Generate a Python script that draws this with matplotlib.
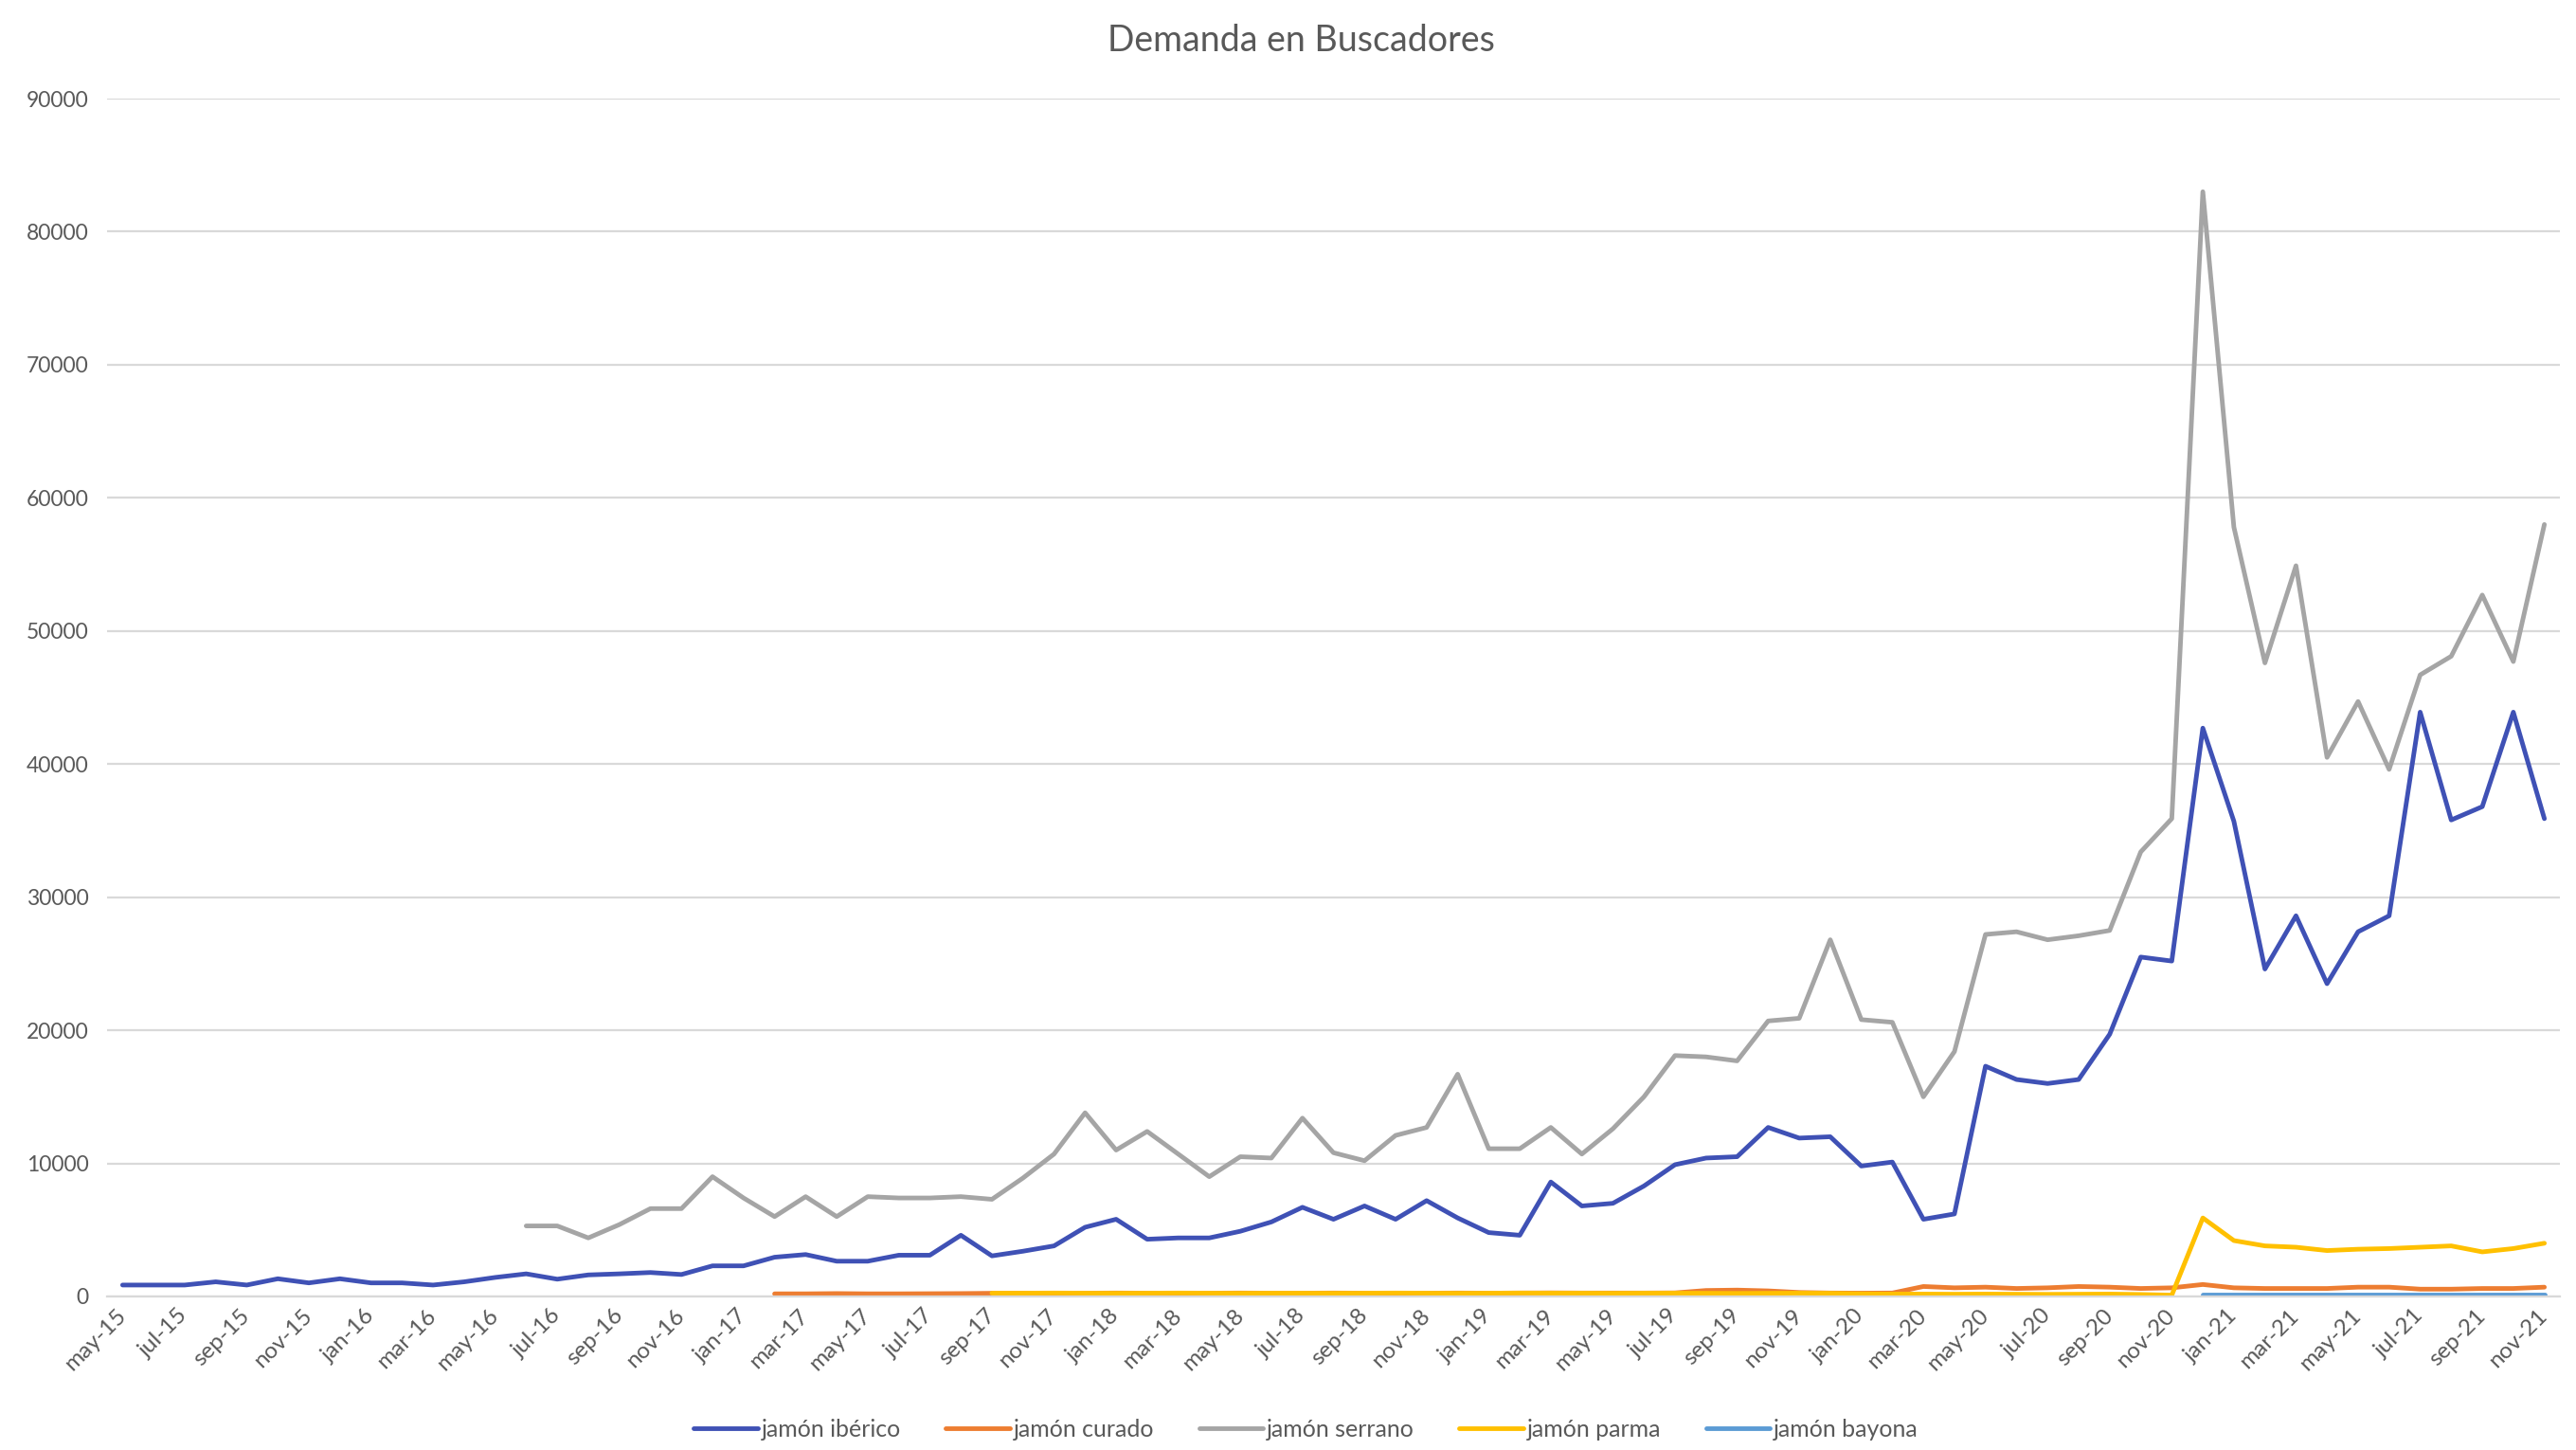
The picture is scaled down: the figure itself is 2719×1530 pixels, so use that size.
import numpy as np
import pandas as pd
import matplotlib
matplotlib.use("Agg")
import matplotlib.pyplot as plt

nan = np.nan

# ---- data -------------------------------------------------------------
month_abbr = ["jan", "feb", "mar", "apr", "may", "jun",
              "jul", "aug", "sep", "oct", "nov", "dec"]
dates = pd.date_range("2015-05-01", "2021-11-01", freq="MS")
months = [f"{month_abbr[d.month - 1]}-{d.year % 100:02d}" for d in dates]

iberico = [860, 860, 860, 1100, 860, 1330, 1020, 1330, 1020, 1020,
           860, 1100, 1430, 1700, 1300, 1620, 1700, 1800, 1650, 2300,
           2300, 2950, 3150, 2650, 2650, 3100, 3100, 4600, 3050, 3400,
           3800, 5200, 5800, 4300, 4400, 4400, 4900, 5600, 6700, 5800,
           6800, 5800, 7200, 5900, 4800, 4600, 8600, 6800, 7000, 8300,
           9900, 10400, 10500, 12700, 11900, 12000, 9800, 10100, 5800, 6200,
           17300, 16300, 16000, 16300, 19700, 25500, 25200, 42700, 35700, 24600,
           28600, 23500, 27400, 28600, 43900, 35800, 36800, 43900, 35900]

curado = [nan] * 21 + [200, 200, 220, 200, 200, 210, 220,
          240, 250, 240, 250, 260, 250, 240, 250, 260, 250,
          250, 260, 250, 240, 250, 260, 250, 260, 270, 260,
          260, 260, 270, 450, 480, 420, 300, 260, 250, 260,
          750, 650, 700, 600, 650, 750, 700, 600, 650,
          900, 650, 600, 600, 600, 700, 700, 550, 550, 600, 600, 700]

serrano = [nan] * 13 + [5300, 5300, 4400, 5400, 6600, 6600, 9000,
           7400, 6000, 7500, 6000, 7500, 7400, 7400, 7500, 7300, 8900,
           10700, 13800, 11000, 12400, 10700, 9000, 10500, 10400, 13400, 10800,
           10200, 12100, 12700, 16700, 11100, 11100, 12700, 10700, 12600, 15000,
           18100, 18000, 17700, 20700, 20900, 26800, 20800, 20600, 15000, 18400,
           27200, 27400, 26800, 27100, 27500, 33400, 35900, 83000, 57800, 47600,
           54900, 40500, 44700, 39600, 46700, 48100, 52700, 47700, 58000]

parma = [nan] * 28 + [250, 250, 260, 250, 240, 250, 260, 250, 240, 250,
         250, 240, 250, 260, 250, 240, 250, 260, 250, 250,
         240, 250, 250, 240, 230, 240, 250, 240, 200, 180,
         180, 170, 180, 170, 160, 170, 180, 150, 100,
         5900, 4200, 3800, 3700, 3450, 3550, 3600, 3700, 3800, 3350, 3600, 4000]

bayona = [nan] * 67 + [150] * 12

series_names = ["jamón ibérico", "jamón curado", "jamón serrano",
                "jamón parma", "jamón bayona"]
series_values = [iberico, curado, serrano, parma, bayona]
series_colors = ["#3F51B5", "#ED7D31", "#A5A5A5", "#FFC000", "#5B9BD5"]

y_ticks = [0, 10000, 20000, 30000, 40000, 50000, 60000, 70000, 80000, 90000]

# ---- figure -----------------------------------------------------------
plt.rcParams["font.family"] = ["Lato", "DejaVu Sans"]
text_color = "#595959"
grid_color = "#D9D9D9"

W, H = 2719, 1530
fig = plt.figure(figsize=(W / 100, H / 100), dpi=100)
fig.patch.set_facecolor("white")
ax = fig.add_axes([113 / W, 1 - 1368 / H, (2702 - 113) / W, (1368 - 104) / H])

x = np.arange(len(months))
for name, vals, col in zip(series_names, series_values, series_colors):
    ax.plot(x, np.array(vals, dtype=float), color=col, lw=3.5,
            label=name, solid_joinstyle="round", solid_capstyle="round")

ax.set_xlim(-0.5, len(months) - 0.5)
ax.set_ylim(0, 90000)
ax.set_yticks(y_ticks)
ax.set_yticklabels([str(v) for v in y_ticks])
ax.yaxis.grid(True, color=grid_color, lw=1.6)
ax.set_axisbelow(True)
for s in ["top", "right", "left"]:
    ax.spines[s].set_visible(False)
ax.spines["bottom"].set_color(grid_color)
ax.spines["bottom"].set_linewidth(1.6)
ax.tick_params(axis="y", length=0, pad=14, labelsize=16.5, labelcolor=text_color)
ax.tick_params(axis="x", length=0, pad=12, labelsize=17.5, labelcolor=text_color)

xt = x[::2]
ax.set_xticks(xt)
ax.set_xticklabels([months[i] for i in xt], rotation=45, ha="right",
                   va="center", rotation_mode="anchor")

fig.text(0.505, 1 - 43 / H, "Demanda en Buscadores", ha="center",
         va="center", fontsize=27, color=text_color)

fig.legend(loc="center", bbox_to_anchor=(0.507, 1 - 1508 / H), ncol=5,
           frameon=False, fontsize=18, labelcolor=text_color,
           handlelength=2.7, handletextpad=0.15, columnspacing=1.9)

fig.savefig("out.png", dpi=100, facecolor="white")
